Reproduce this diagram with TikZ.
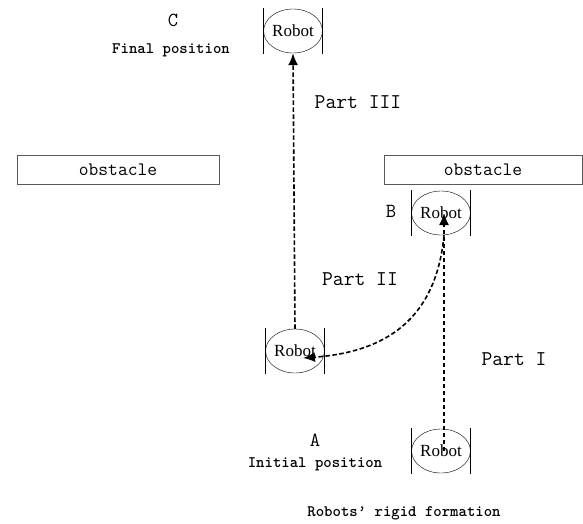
\documentclass[tikz,border=0pt]{standalone}
\usepackage{fontspec}
\setmainfont{Liberation Serif}
\usetikzlibrary{shapes.geometric,arrows.meta}

\begin{document}
\begin{tikzpicture}[x=1pt,y=-1pt,
  robot/.style={draw,ellipse,minimum width=57pt,minimum height=44pt,inner sep=0pt,
    font=\fontsize{17}{17}\selectfont},
  bar/.style={line width=1.4pt},
  obstacle/.style={draw=black!65,minimum height=29pt,inner sep=0pt,
    font=\ttfamily\fontsize{19}{20}\selectfont},
  route/.style={dashed,dash pattern=on 4.5pt off 2.5pt,line width=1.6pt,
    -{Latex[length=12pt,width=10pt]}},
  part/.style={font=\ttfamily\fontsize{21}{22}\selectfont},
  letter/.style={font=\ttfamily\fontsize{20}{20}\selectfont},
  caption/.style={font=\ttfamily\bfseries\fontsize{16}{18}\selectfont}]
\useasboundingbox (0,0) rectangle (583,523);

% Obstacles
\node[obstacle,minimum width=202pt] (obsL) at (118,169.5) {obstacle};
\node[obstacle,minimum width=198pt] (obsR) at (483,169.5) {obstacle};

% Robots
\node[robot] (robotC) at (293,31) {Robot};
\node[robot] (robotB) at (441,213) {Robot};
\node[robot] (robotM) at (295,351) {Robot};
\node[robot] (robotA) at (441,451) {Robot};
\foreach \r in {robotA,robotB,robotC,robotM}{
  \draw[bar] ([yshift=23pt]\r.west) -- ([yshift=-23pt]\r.west);
  \draw[bar] ([yshift=23pt]\r.east) -- ([yshift=-23pt]\r.east);
}

% Paths
\draw[route] ([xshift=3pt]robotA.center) -- ([xshift=3pt]robotB.center);
\draw[route] ([xshift=3pt]robotB.south) .. controls (436,320) and (385,352) .. ([shift={(8,7)}]robotM.center);
\draw[route] (robotM.north) -- (robotC.south);

% Labels
\node[part] (p3) at (358,102) {Part III};
\node[part] (p2) at (360,279) {Part II};
\node[part] (p1) at (514,359) {Part I};
\node[letter] (lblC) at (173,20) {C};
\node[caption] (finalpos) at (171,50) {Final position};
\node[letter] (lblB) at (391,211) {B};
\node[letter] (lblA) at (315,440) {A};
\node[caption] (initpos) at (315,464) {Initial position};
\node[caption] (formation) at (404,513) {Robots’ rigid formation};
\end{tikzpicture}
\end{document}
